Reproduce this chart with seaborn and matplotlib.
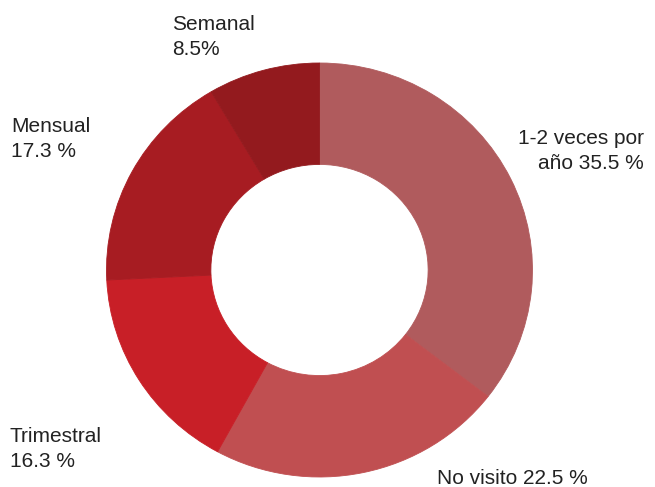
import matplotlib
matplotlib.use("Agg")
import matplotlib.pyplot as plt
import seaborn as sns

# Data (clockwise from 12 o'clock)
categories = ["1-2 veces por año", "No visito", "Trimestral", "Mensual", "Semanal"]
shares = [35.5, 22.5, 16.3, 17.3, 8.5]
label_texts = ["1-2 veces por\naño 35.5 %", "No visito 22.5 %", "Trimestral\n16.3 %",
               "Mensual\n17.3 %", "Semanal\n8.5%"]
slice_colors = ["#B05B5D", "#C04F51", "#C81F27", "#A71C22", "#931A1E"]

sns.set_theme(style="white")
plt.rcParams["font.family"] = ["Liberation Sans", "DejaVu Sans"]

W, H = 655, 487
fig = plt.figure(figsize=(W / 100, H / 100), dpi=100)
ax = fig.add_axes([0, 0, 1, 1])

# ring is a touch wider than tall in the reference
cx, cy = 319.5, 270          # centre, pixels from top-left
rx, ry = 213, 207            # outer radius in pixels (x, y)
wedges, _ = ax.pie(shares, colors=slice_colors, startangle=90, counterclock=False,
                   radius=1, wedgeprops=dict(width=0.49, linewidth=0.6))
for w in wedges:
    w.set_edgecolor(w.get_facecolor())
ax.set_xlim(-cx / rx, (W - cx) / rx)
ax.set_ylim(-(H - cy) / ry, cy / ry)
ax.set_aspect("auto")
ax.axis("off")

# label positions: (x, baseline of last line from top, alignment)
label_pos = [(644, 169, "right"), (437, 484, "left"), (10, 467, "left"),
             (11, 157, "left"), (172, 55, "left")]
for txt, (x, y, ha) in zip(label_texts, label_pos):
    fig.text(x / W, 1 - y / H, txt, ha=ha, va="baseline", fontsize=15,
             color="#222222", linespacing=1.43, multialignment=ha)

fig.savefig("out.png", dpi=100, facecolor="white")
